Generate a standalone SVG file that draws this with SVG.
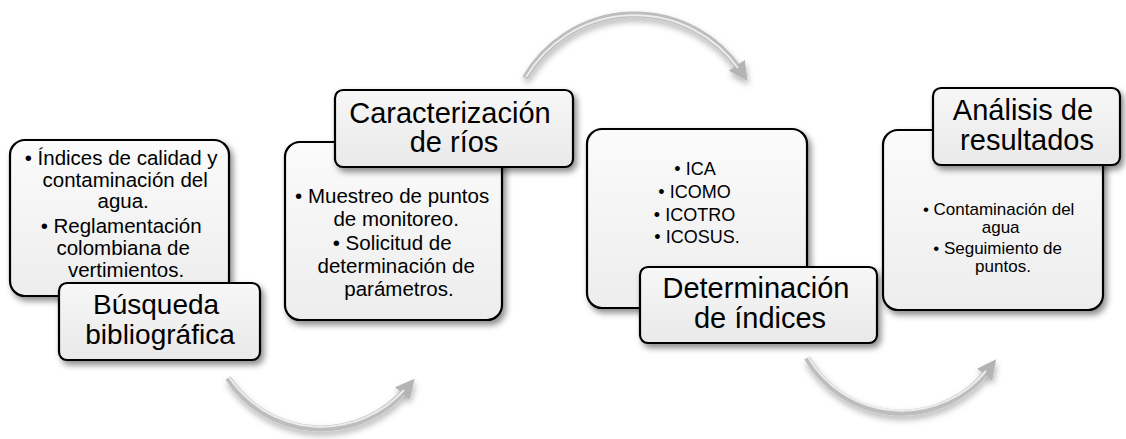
<svg xmlns="http://www.w3.org/2000/svg" width="1126" height="439" viewBox="0 0 1126 439">
<defs>
  <linearGradient id="boxFill" x1="0" y1="0" x2="0" y2="1">
    <stop offset="0" stop-color="#fbfbfb"/>
    <stop offset="1" stop-color="#ededed"/>
  </linearGradient>
  <linearGradient id="titleFill" x1="0" y1="0" x2="0" y2="1">
    <stop offset="0" stop-color="#f7f7f7"/>
    <stop offset="1" stop-color="#e9e9e9"/>
  </linearGradient>
  <filter id="shadow" x="-10%" y="-10%" width="125%" height="130%">
    <feDropShadow dx="3" dy="4" stdDeviation="3" flood-color="#000" flood-opacity="0.45"/>
  </filter>
  <filter id="arrowShadow" x="-10%" y="-20%" width="125%" height="150%">
    <feDropShadow dx="1" dy="4" stdDeviation="3" flood-color="#000" flood-opacity="0.3"/>
  </filter>
  <marker id="head" viewBox="0 0 10 10" refX="3" refY="5" markerWidth="3.2" markerHeight="3.2" orient="auto" markerUnits="strokeWidth">
    <path d="M0,0 L10,5 L0,10 z" fill="#b4b4b4"/>
  </marker>
  <style>
    .body { fill: url(#boxFill); stroke: #000; stroke-width: 2.2; filter: url(#shadow); }
    .title { fill: url(#titleFill); stroke: #000; stroke-width: 2.2; filter: url(#shadow); }
    .txt { font-family: "Liberation Sans", Arial, sans-serif; fill: #000; text-anchor: middle; }
    .t29 { font-size: 29px; }
    .t28 { font-size: 28px; }
    .t21 { font-size: 20.5px; }
    .t18 { font-size: 18px; }
    .t17 { font-size: 17px; }
    .shaft { fill: none; stroke: #bdbdbd; stroke-width: 6; stroke-linecap: butt; }
    .hl { fill: none; stroke: #ececec; stroke-width: 2; }
  </style>
</defs>

<g id="connectors">
  <g filter="url(#arrowShadow)">
    <path class="shaft" d="M228,378 A111,111 0 0 0 406,389" marker-end="url(#head)"/>
    <path class="hl" d="M229,377 A111,111 0 0 0 404,390"/>
  </g>
  <g filter="url(#arrowShadow)">
    <path class="shaft" d="M525,78 A127,127 0 0 1 740,70" marker-end="url(#head)"/>
    <path class="hl" d="M526,77 A127,127 0 0 1 738,68"/>
  </g>
  <g filter="url(#arrowShadow)">
    <path class="shaft" d="M807,358 A109,109 0 0 0 988,370" marker-end="url(#head)"/>
    <path class="hl" d="M808,357 A109,109 0 0 0 986,371"/>
  </g>
</g>

<g id="node-busqueda">
  <rect class="body" x="10" y="140" width="219" height="156" rx="15"/>
  <text class="txt t21">
    <tspan x="124" y="165">• Índices de calidad y</tspan>
    <tspan x="128" y="187">contaminación del</tspan>
    <tspan x="126" y="208">agua.</tspan>
    <tspan x="124" y="233">• Reglamentación</tspan>
    <tspan x="126" y="255">colombiana de</tspan>
    <tspan x="126" y="277">vertimientos.</tspan>
  </text>
  <rect class="title" x="59" y="283" width="201" height="77" rx="8"/>
  <text class="txt t28">
    <tspan x="160" y="314">Búsqueda</tspan>
    <tspan x="160" y="344">bibliográfica</tspan>
  </text>
</g>

<g id="node-caracterizacion">
  <rect class="body" x="285" y="142" width="217" height="178" rx="15"/>
  <text class="txt t21">
    <tspan x="395" y="203">• Muestreo de puntos</tspan>
    <tspan x="399" y="226">de monitoreo.</tspan>
    <tspan x="395" y="250">• Solicitud de</tspan>
    <tspan x="399" y="273">determinación de</tspan>
    <tspan x="399" y="296">parámetros.</tspan>
  </text>
  <rect class="title" x="335" y="90" width="238" height="77" rx="8"/>
  <text class="txt t29">
    <tspan x="454" y="123">Caracterización</tspan>
    <tspan x="454" y="152">de ríos</tspan>
  </text>
</g>

<g id="node-determinacion">
  <rect class="body" x="587" y="129" width="220" height="179" rx="15"/>
  <text class="txt t18">
    <tspan x="697" y="175">• ICA</tspan>
    <tspan x="697" y="198">• ICOMO</tspan>
    <tspan x="697" y="221">• ICOTRO</tspan>
    <tspan x="697" y="243">• ICOSUS.</tspan>
  </text>
  <rect class="title" x="640" y="267" width="237" height="76" rx="8"/>
  <text class="txt t29">
    <tspan x="760" y="298">Determinación</tspan>
    <tspan x="760" y="328">de índices</tspan>
  </text>
</g>

<g id="node-analisis">
  <rect class="body" x="883" y="130" width="220" height="180" rx="15"/>
  <text class="txt t17">
    <tspan x="1001" y="215">• Contaminación del</tspan>
    <tspan x="1003" y="233">agua</tspan>
    <tspan x="1000" y="254">• Seguimiento de</tspan>
    <tspan x="1003" y="272">puntos.</tspan>
  </text>
  <rect class="title" x="933" y="88" width="187" height="77" rx="8"/>
  <text class="txt t29">
    <tspan x="1027" y="120">Análisis de</tspan>
    <tspan x="1027" y="150">resultados</tspan>
  </text>
</g>
</svg>
